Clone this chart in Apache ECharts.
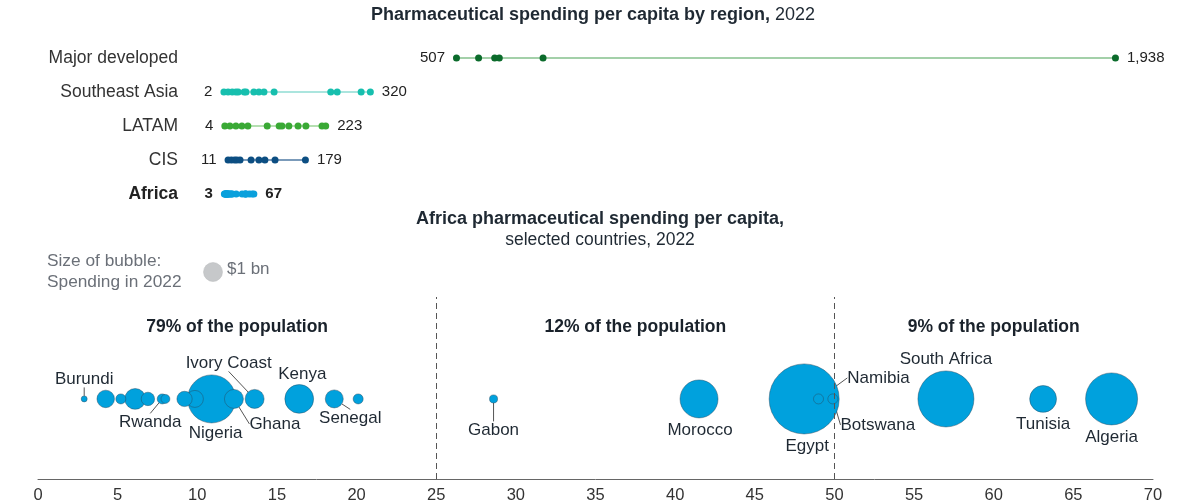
<!DOCTYPE html>
<html>
<head>
<meta charset="utf-8">
<script src="https://cdn.jsdelivr.net/npm/echarts@6/dist/echarts.min.js"></script>
<style>
  html, body { margin: 0; background: #fff; }
  #chart { width: 1200px; height: 504px; }
</style>
</head>
<body>
<div id="chart"></div>
<script>
// ---- top panel: spending per capita by region ($) ----
const regions = ['Major developed', 'Southeast Asia', 'LATAM', 'CIS', 'Africa'];
const majorDeveloped = [507, 555, 590, 600, 695, 1938];
const southeastAsia = [2, 11, 20, 28, 33, 46, 50, 67, 78, 89, 111, 234, 248, 300, 320];
const latam = [4, 15, 28, 41, 54, 96, 122, 128, 143, 163, 180, 215, 223];
const cis = [11, 18, 25, 30, 37, 61, 78, 91, 113, 179];
const africaRow = [3, 4.3, 5.2, 6.1, 6.9, 7.8, 8, 9.2, 9.9, 10.9, 12.3, 13.6, 16.4, 18.6, 20.1, 28.6, 41.5, 48.1, 49, 49.9, 57, 63.1, 67];
const regionValues = [majorDeveloped, southeastAsia, latam, cis, africaRow];
const dotColors = ['#0b6b2b', '#17bfae', '#3aa935', '#0c4e82', '#0aa0dc'];
const lineColors = ['#85c08d', '#8fdcd3', '#9dd497', '#4f7aa3', '#0aa0dc'];

// ---- bottom panel: Africa, selected countries ----
const countries = ['Burundi', '', '', '', '', 'Rwanda', '', '', '', 'Nigeria', 'Ghana', 'Ivory Coast', 'Kenya', 'Senegal', '', 'Gabon', 'Morocco', 'Egypt', 'Namibia', 'Botswana', 'South Africa', 'Tunisia', 'Algeria'];
const perCapita = [2.9, 4.25, 5.2, 6.1, 6.9, 7.8, 8.0, 9.2, 9.85, 10.9, 12.3, 13.6, 16.4, 18.6, 20.1, 28.6, 41.5, 48.1, 49.0, 49.9, 57.0, 63.1, 67.4];
const spendingBn = [0.1, 0.85, 0.28, 1.2, 0.5, 0.28, 0.22, 0.65, 0.8, 6.4, 1.0, 1.0, 2.3, 0.9, 0.28, 0.18, 4.0, 13.6, 0.28, 0.28, 8.7, 2.0, 7.5];
const sectionCenters = [12.5, 37.5, 60];
const sectionLabels = ['79% of the population', '12% of the population', '9% of the population'];
const dividers = [25, 50];
const xTicks = { min: 0, max: 70, interval: 5 };

// layout stuff
const BN_DIAMETER = 19;      // px diameter of a $1 bn bubble
const BUBBLE_ROW = 0.44;
const SECTION_ROW = 0.836;
const FONT = 'Liberation Sans, Arial, sans-serif';
const INK = '#1f2933';
const labelOffsets = {
  'Burundi': [0, -20, true],
  'Rwanda': [-12, 23, true],
  'Nigeria': [4, 34, false],
  'Ghana': [41, 25, true],
  'Ivory Coast': [-26, -36, true],
  'Kenya': [3, -25, false],
  'Senegal': [16, 19, true],
  'Gabon': [0, 31, true],
  'Morocco': [1, 31, false],
  'Egypt': [3, 47, false],
  'Namibia': [60, -21, true],
  'Botswana': [45, 26, true],
  'South Africa': [0, -40, false],
  'Tunisia': [0, 25, false],
  'Algeria': [0, 38, false]
};

const bubbleSize = bn => BN_DIAMETER * Math.sqrt(bn);

// draw larger bubbles first so smaller ones sit on top
const order = perCapita.map((v, i) => i).sort((a, b) => spendingBn[b] - spendingBn[a]);
const bubbleData = order.map(i => {
  const name = countries[i];
  const off = labelOffsets[name];
  return {
    name: name,
    value: [perCapita[i], BUBBLE_ROW, spendingBn[i]],
    label: { show: !!name },
    labelLine: { show: !!(off && off[2]) }
  };
});

const series = [];
regions.forEach((r, i) => {
  const vals = regionValues[i];
  const lo = Math.min(...vals), hi = Math.max(...vals);
  const bold = r === 'Africa' ? 'bold' : 'normal';
  series.push({
    type: 'line',
    xAxisIndex: 0, yAxisIndex: 0,
    data: [[lo, r], [hi, r]],
    symbol: 'none',
    lineStyle: { color: lineColors[i], width: 1.5 },
    silent: true, z: 2
  });
  series.push({
    type: 'scatter',
    xAxisIndex: 0, yAxisIndex: 0,
    symbolSize: 7,
    itemStyle: { color: dotColors[i], opacity: 1 },
    z: 3,
    data: vals.map(v => {
      const item = { value: [v, r] };
      if (v === lo || v === hi) {
        item.label = {
          show: true,
          position: v === lo ? 'left' : 'right',
          distance: 8,
          formatter: () => v.toLocaleString('en-US'),
          fontSize: 15, color: '#222', fontWeight: bold, fontFamily: FONT
        };
      }
      return item;
    })
  });
});

series.push({
  type: 'scatter',
  xAxisIndex: 1, yAxisIndex: 1,
  data: bubbleData,
  symbolSize: v => bubbleSize(v[2]),
  itemStyle: { color: '#00a1dd', borderColor: 'rgba(40,70,90,0.55)', borderWidth: 0.8, opacity: 1 },
  label: {
    position: 'inside',
    formatter: p => p.name,
    fontSize: 17, color: INK, fontFamily: FONT
  },
  labelLine: { lineStyle: { color: '#555', width: 1 } },
  labelLayout: p => {
    const name = bubbleData[p.dataIndex].name;
    const off = labelOffsets[name] || [0, 0];
    return { dx: off[0], dy: off[1] };
  },
  markLine: {
    silent: true,
    symbol: 'none',
    label: { show: false },
    lineStyle: { color: '#555', type: [6, 4], width: 1 },
    data: dividers.map(d => ({ xAxis: d }))
  },
  z: 3
});

series.push({
  type: 'scatter',
  xAxisIndex: 1, yAxisIndex: 1,
  symbolSize: 0,
  silent: true,
  itemStyle: { opacity: 1 },
  data: sectionCenters.map((c, i) => ({ name: sectionLabels[i], value: [c, SECTION_ROW] })),
  label: {
    show: true, position: 'inside', formatter: p => p.name,
    fontSize: 17.5, fontWeight: 'bold', color: '#1a222b', opacity: 1, fontFamily: FONT
  }
});

const chart = echarts.init(document.getElementById('chart'), null, { renderer: 'canvas' });
chart.setOption({
  animation: false,
  backgroundColor: '#fff',
  textStyle: { fontFamily: FONT },
  grid: [
    { left: 223, width: 921, top: 41, height: 170 },
    { left: 38, width: 1115, top: 297, height: 182 }
  ],
  xAxis: [
    { gridIndex: 0, type: 'value', min: 0, max: 2000, show: false },
    {
      gridIndex: 1, type: 'value', min: xTicks.min, max: xTicks.max, interval: xTicks.interval,
      axisLine: { show: true, lineStyle: { color: '#666', width: 1 } },
      axisTick: { show: false },
      splitLine: { show: false },
      axisLabel: { fontSize: 16.5, color: '#333', margin: 8, fontFamily: FONT }
    }
  ],
  yAxis: [
    {
      gridIndex: 0, type: 'category', data: regions, inverse: true,
      axisLine: { show: false }, axisTick: { show: false }, splitLine: { show: false },
      axisLabel: {
        margin: 45, fontSize: 17.5, color: '#333', fontFamily: FONT,
        formatter: v => v === 'Africa' ? '{b|Africa}' : v,
        rich: { b: { fontSize: 17.5, fontWeight: 'bold', color: '#222', fontFamily: FONT } }
      }
    },
    { gridIndex: 1, type: 'value', min: 0, max: 1, show: false }
  ],
  graphic: [
    { type: 'text', x: 593, y: 15, style: {
        text: '{b|Pharmaceutical spending per capita by region,} 2022',
        align: 'center', verticalAlign: 'middle',
        fontSize: 18, fill: INK, fontFamily: FONT,
        rich: { b: { fontSize: 18, fontWeight: 'bold', fill: INK, fontFamily: FONT } } } },
    { type: 'text', x: 600, y: 230, style: {
        text: '{b|Africa pharmaceutical spending per capita,}\nselected countries, 2022',
        align: 'center', verticalAlign: 'middle', lineHeight: 21,
        fontSize: 17.5, fill: INK, fontFamily: FONT,
        rich: { b: { fontSize: 18, fontWeight: 'bold', fill: INK, lineHeight: 21, fontFamily: FONT } } } },
    { type: 'text', left: 47, top: 251, style: { text: 'Size of bubble:\nSpending in 2022', fontSize: 17.3, lineHeight: 21, fill: '#6b7078', fontFamily: FONT } },
    { type: 'circle', shape: { cx: 213, cy: 272, r: bubbleSize(1) / 2 }, style: { fill: '#c6c8ca', stroke: '#b8babc', lineWidth: 0.5 } },
    { type: 'text', left: 227, top: 261, style: { text: '$1 bn', fontSize: 17, fill: '#6b7078', fontFamily: FONT } }
  ],
  series: series
});
</script>
</body>
</html>
